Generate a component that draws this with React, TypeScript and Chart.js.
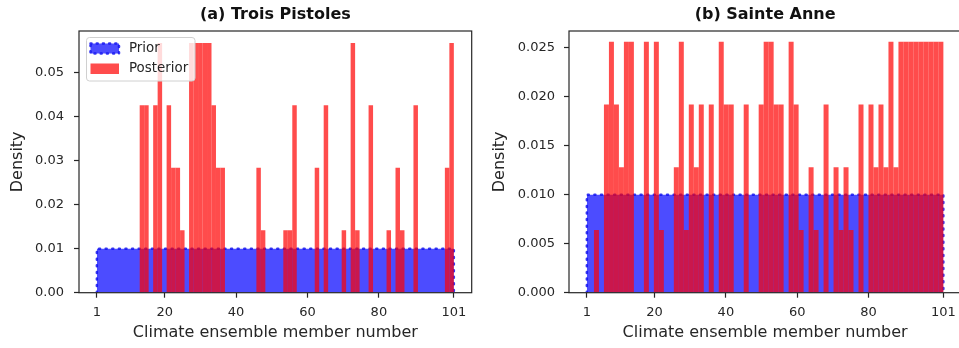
import React, { useEffect, useRef } from "react";
import { Chart, registerables } from "chart.js";

Chart.register(...registerables);

// ---------------- data ----------------
const memberRange = [1, 101];
const priorDensity = 0.01;
const xTickValues = [1, 20, 40, 60, 80, 101];

const xAxisTitle = "Climate ensemble member number";
const yAxisTitle = "Density";
const seriesNames = ["Prior", "Posterior"];

// (a) Trois Pistoles – posterior histogram, 70 bins spanning [13, 101]
const titleA = "(a) Trois Pistoles";
const posteriorRangeA = [13, 101];
const posteriorDensityA = [
  0.0426, 0.0426, 0, 0.0426, 0.0568, 0, 0.0426, 0.0284, 0.0284, 0.0142,
  0, 0.0568, 0.0568, 0.0568, 0.0568, 0.0568, 0.0426, 0.0284, 0.0284, 0,
  0, 0, 0, 0, 0, 0, 0.0284, 0.0142, 0, 0,
  0, 0, 0.0142, 0.0142, 0.0426, 0, 0, 0, 0, 0.0284,
  0, 0.0426, 0, 0, 0, 0.0142, 0, 0.0568, 0.0142, 0,
  0, 0.0426, 0, 0, 0, 0.0142, 0, 0.0284, 0.0142, 0,
  0, 0.0426, 0, 0, 0, 0, 0, 0, 0.0284, 0.0568,
];
const yTicksA = [0, 0.01, 0.02, 0.03, 0.04, 0.05];
const yMaxA = 0.0595;

// (b) Sainte Anne – posterior histogram, 70 bins spanning [3, 101]
const titleB = "(b) Sainte Anne";
const posteriorRangeB = [3, 101];
const posteriorDensityB = [
  0.0064, 0, 0.0192, 0.0256, 0.0192, 0.0128, 0.0256, 0.0256, 0, 0,
  0.0256, 0, 0.0256, 0.0064, 0, 0, 0.0128, 0.0256, 0.0064, 0.0192,
  0.0128, 0.0192, 0, 0.0192, 0, 0.0256, 0.0192, 0.0192, 0, 0,
  0.0192, 0, 0, 0.0192, 0.0256, 0.0256, 0.0192, 0.0192, 0, 0.0256,
  0.0192, 0.0064, 0, 0.0128, 0.0064, 0, 0.0192, 0, 0.0128, 0.0064,
  0.0128, 0.0064, 0, 0.0192, 0, 0.0192, 0.0128, 0.0192, 0.0128, 0.0256,
  0.0128, 0.0256, 0.0256, 0.0256, 0.0256, 0.0256, 0.0256, 0.0256, 0.0256, 0.0256,
];
const yTicksB = [0, 0.005, 0.01, 0.015, 0.02, 0.025];
const yMaxB = 0.0267;

// ---------------- styles ----------------
const FONT = '"DejaVu Sans"';
const INK = "#262626";
const RED = "rgba(255,0,0,0.7)";
const BLUE = "rgba(0,0,255,0.7)";
const BLUE_EDGE = "rgba(20,20,240,0.85)";

type PanelProps = {
  title: string;
  range: number[];
  density: number[];
  yTicks: number[];
  yMax: number;
  decimals: number;
  showLegend: boolean;
  left: number;
  width: number;
  axisWidth: number;
  rightPad: number;
  yTitlePad: number;
  yTickPad: number;
};

function Panel(p: PanelProps) {
  const ref = useRef<HTMLCanvasElement | null>(null);

  useEffect(() => {
    const canvas = ref.current;
    if (!canvas) return;
    const [lo, hi] = p.range;
    const binW = (hi - lo) / p.density.length;
    const bars = p.density.map((d, i) => ({ x: lo + (i + 0.5) * binW, y: d }));
    const prior = [
      { x: memberRange[0], y: 0 },
      { x: memberRange[0], y: priorDensity },
      { x: memberRange[1], y: priorDensity },
      { x: memberRange[1], y: 0 },
    ];

    const framePlugin = {
      id: "frameTitle",
      afterDraw(chart: any) {
        const { ctx, chartArea } = chart;
        const { left, right, top, bottom } = chartArea;
        ctx.save();
        ctx.strokeStyle = INK;
        ctx.lineWidth = 1.2;
        ctx.strokeRect(left, top, right - left, bottom - top);
        ctx.fillStyle = "#111";
        ctx.font = `bold 16px ${FONT}`;
        ctx.textAlign = "center";
        ctx.textBaseline = "middle";
        ctx.fillText(p.title, (left + right) / 2, 14.5);

        if (p.showLegend) {
          const bx = 86.5, by = 37.5, bw = 108.5, bh = 43.5, r = 3;
          ctx.beginPath();
          ctx.moveTo(bx + r, by);
          ctx.lineTo(bx + bw - r, by);
          ctx.quadraticCurveTo(bx + bw, by, bx + bw, by + r);
          ctx.lineTo(bx + bw, by + bh - r);
          ctx.quadraticCurveTo(bx + bw, by + bh, bx + bw - r, by + bh);
          ctx.lineTo(bx + r, by + bh);
          ctx.quadraticCurveTo(bx, by + bh, bx, by + bh - r);
          ctx.lineTo(bx, by + r);
          ctx.quadraticCurveTo(bx, by, bx + r, by);
          ctx.closePath();
          ctx.fillStyle = "rgba(255,255,255,0.8)";
          ctx.fill();
          ctx.strokeStyle = "#d0d0d0";
          ctx.lineWidth = 1;
          ctx.stroke();

          // prior patch
          ctx.fillStyle = BLUE;
          ctx.fillRect(90.5, 43.5, 28.5, 10);
          ctx.setLineDash([1, 5.2]);
          ctx.lineCap = "round";
          ctx.lineWidth = 2.5;
          ctx.strokeStyle = BLUE_EDGE;
          ctx.strokeRect(90.5, 43.5, 28.5, 10);
          ctx.setLineDash([]);
          // posterior patch
          ctx.fillStyle = RED;
          ctx.fillRect(90.5, 63.5, 28.5, 10.5);

          ctx.fillStyle = INK;
          ctx.font = `13.4px ${FONT}`;
          ctx.textAlign = "left";
          ctx.textBaseline = "middle";
          ctx.fillText(seriesNames[0], 129, 48.5);
          ctx.fillText(seriesNames[1], 129, 69);
        }
        ctx.restore();
      },
    };

    const chart = new Chart(canvas, {
      type: "bar",
      data: {
        datasets: [
          {
            type: "bar",
            label: seriesNames[1],
            data: bars,
            backgroundColor: RED,
            borderWidth: 0,
            barPercentage: 1,
            categoryPercentage: 1,
            inflateAmount: 0,
            order: 0,
          } as any,
          {
            type: "line",
            label: seriesNames[0],
            data: prior,
            backgroundColor: BLUE,
            borderColor: BLUE_EDGE,
            borderWidth: 2.5,
            borderDash: [1, 5.6],
            borderCapStyle: "round",
            fill: "origin",
            pointRadius: 0,
            tension: 0,
            order: 1,
          } as any,
        ],
      },
      options: {
        responsive: false,
        animation: false,
        devicePixelRatio: 1,
        layout: { padding: { left: 0, right: p.rightPad, top: 31, bottom: 0 } },
        plugins: {
          legend: { display: false },
          tooltip: { enabled: false },
          title: { display: false },
        },
        scales: {
          x: {
            type: "linear",
            min: -4,
            max: 106,
            offset: false,
            afterBuildTicks: (s: any) => {
              s.ticks = xTickValues.map((v) => ({ value: v }));
            },
            afterFit: (s: any) => {
              s.height = 55.3;
            },
            ticks: {
              autoSkip: false,
              maxRotation: 0,
              padding: 7,
              color: INK,
              font: { family: "DejaVu Sans", size: 13 },
              callback: (v: any) => String(v),
            },
            grid: {
              display: true,
              offset: false,
              drawOnChartArea: false,
              drawTicks: true,
              tickLength: 5,
              tickWidth: 1.2,
              tickColor: INK,
            },
            border: { display: false },
            title: {
              display: true,
              text: xAxisTitle,
              color: INK,
              font: { family: "DejaVu Sans", size: 16 },
              padding: { top: 0, bottom: 5.1 },
            },
          } as any,
          y: {
            type: "linear",
            min: 0,
            max: p.yMax,
            afterBuildTicks: (s: any) => {
              s.ticks = p.yTicks.map((v) => ({ value: v }));
            },
            afterFit: (s: any) => {
              s.width = p.axisWidth;
            },
            ticks: {
              padding: p.yTickPad,
              color: INK,
              font: { family: "DejaVu Sans", size: 13 },
              callback: (v: any) => Number(v).toFixed(p.decimals),
            },
            grid: {
              display: true,
              drawOnChartArea: false,
              drawTicks: true,
              tickLength: 5,
              tickWidth: 1.2,
              tickColor: INK,
            },
            border: { display: false },
            title: {
              display: true,
              text: yAxisTitle,
              color: INK,
              font: { family: "DejaVu Sans", size: 16 },
              padding: { top: p.yTitlePad, bottom: 0 },
            },
          } as any,
        },
      },
      plugins: [framePlugin],
    });

    return () => chart.destroy();
  }, []);

  return (
    <canvas
      ref={ref}
      width={p.width}
      height={348}
      style={{ position: "absolute", left: p.left, top: 0, width: p.width, height: 348 }}
    />
  );
}

export default function App() {
  return (
    <div
      style={{
        position: "absolute",
        left: 0,
        top: 0,
        width: 959,
        height: 348,
        overflow: "hidden",
        background: "#fff",
      }}
    >
      <Panel
        title={titleA}
        range={posteriorRangeA}
        density={posteriorDensityA}
        yTicks={yTicksA}
        yMax={yMaxA}
        decimals={2}
        showLegend={true}
        left={0}
        width={480}
        axisWidth={79}
        rightPad={8.3}
        yTitlePad={8.7}
        yTickPad={10}
      />
      <Panel
        title={titleB}
        range={posteriorRangeB}
        density={posteriorDensityB}
        yTicks={yTicksB}
        yMax={yMaxB}
        decimals={3}
        showLegend={false}
        left={480}
        width={490}
        axisWidth={89}
        rightPad={8.8}
        yTitlePad={10.4}
        yTickPad={9}
      />
    </div>
  );
}
